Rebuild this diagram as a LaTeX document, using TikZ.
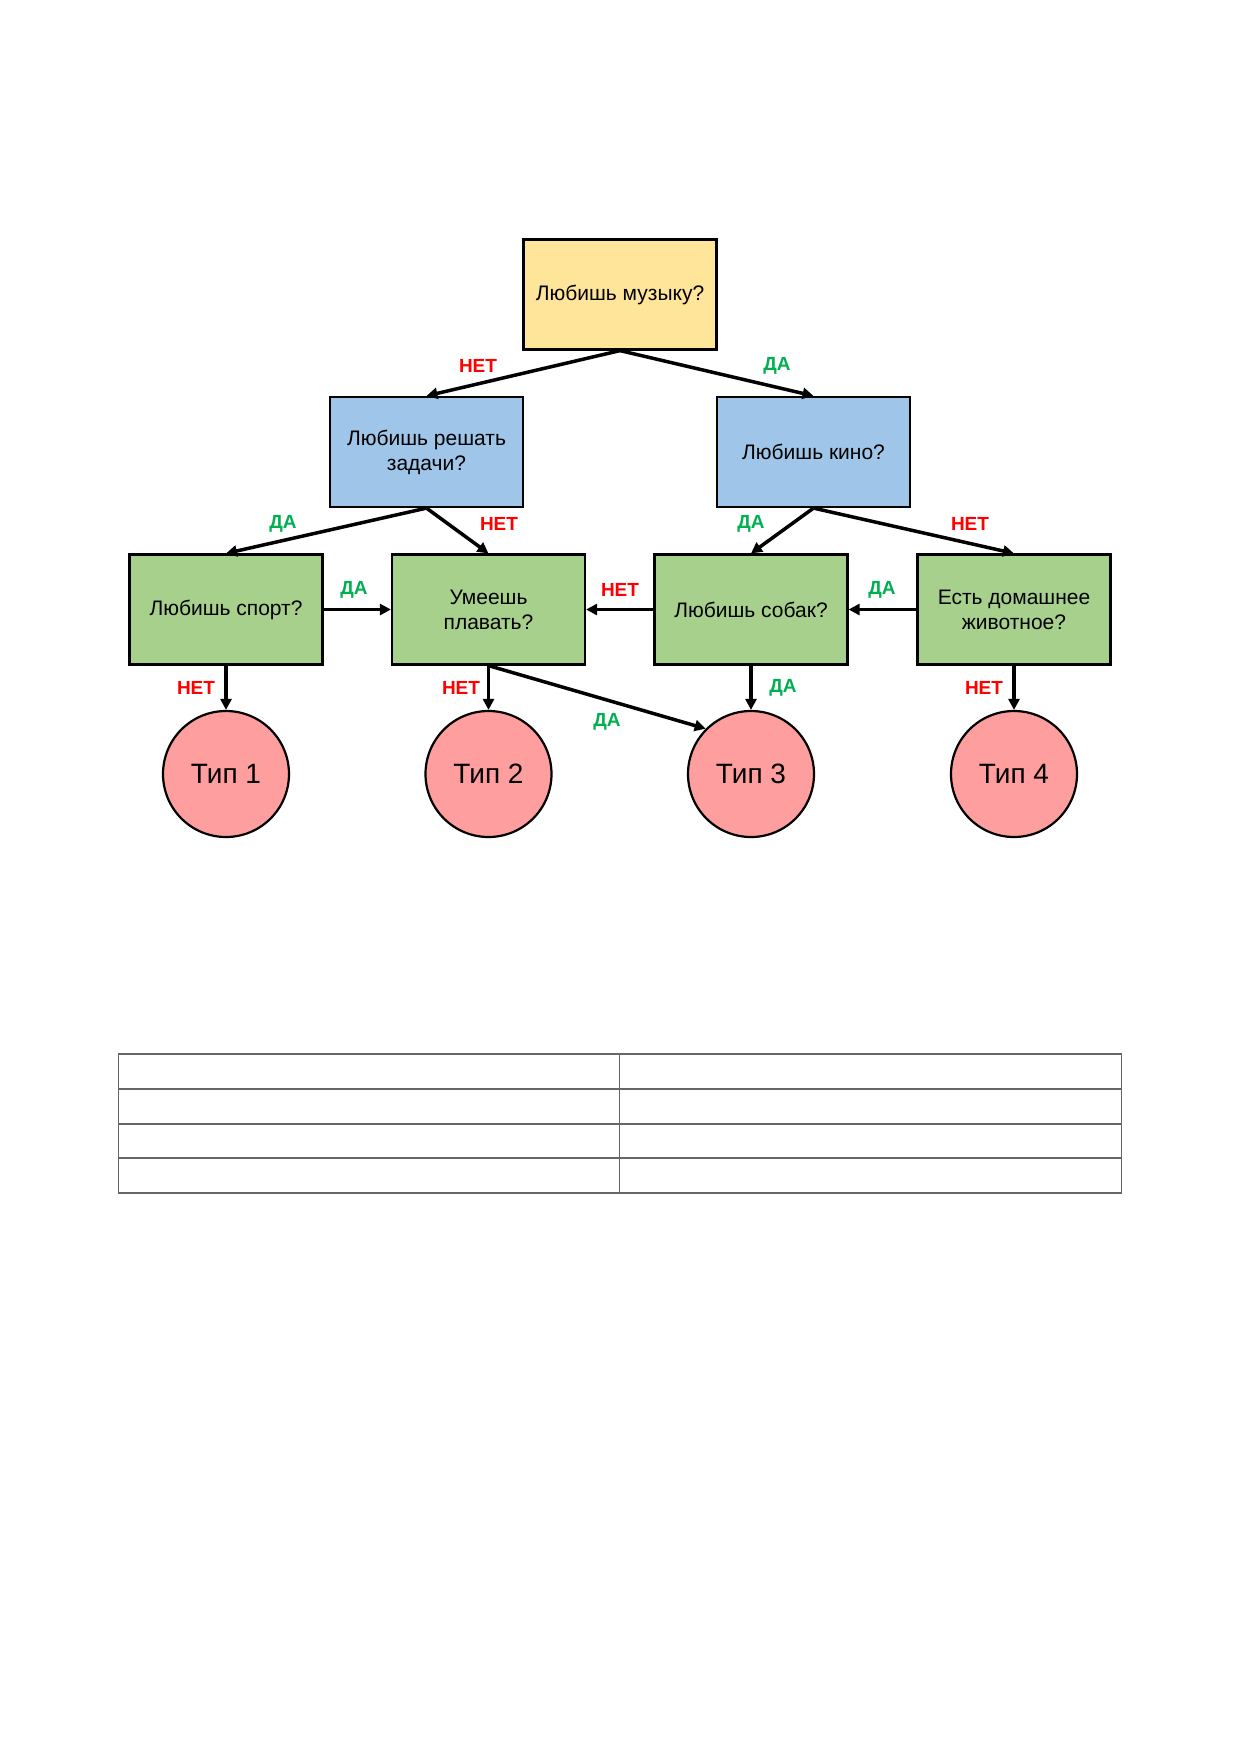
\documentclass[tikz,border=0pt]{standalone}
\usepackage{fontspec}
\setmainfont{Liberation Sans}
\usetikzlibrary{arrows.meta}
\definecolor{cyellow}{HTML}{FFE599}
\definecolor{cblue}{HTML}{9FC5E8}
\definecolor{cgreen}{HTML}{A8D08D}
\definecolor{cpink}{HTML}{FF9E9E}
\definecolor{lred}{HTML}{FF0000}
\definecolor{lgreen}{HTML}{00B050}
\definecolor{tgray}{HTML}{666666}
\begin{document}
\begin{tikzpicture}[x=1pt,y=-1pt,
  qbox/.style={draw=black,line width=2.2pt,minimum width=193pt,minimum height=110pt,align=center,font=\fontsize{21}{25}\selectfont,inner sep=2pt},
  tipnode/.style={draw=black,line width=2.2pt,circle,fill=cpink,minimum size=126pt,inner sep=0pt,font=\fontsize{28}{32}\selectfont},
  conn/.style={line width=3.5pt,-{Triangle[length=11pt,width=11pt]}},
  yes/.style={text=lgreen,font=\fontsize{19}{21}\selectfont\bfseries},
  no/.style={text=lred,font=\fontsize{19}{21}\selectfont\bfseries},
  grid/.style={draw=tgray,line width=1.5pt}]
\useasboundingbox[fill=white] (0,0) rectangle (1240,1754);

\node[qbox,fill=cyellow] (q0) at (620,294.5) {Любишь музыку?};
\node[qbox,fill=cblue] (q1) at (426.5,452) {Любишь решать\\задачи?};
\node[qbox,fill=cblue] (q2) at (813.5,452) {Любишь кино?};
\node[qbox,fill=cgreen] (g1) at (226,609.5) {Любишь спорт?};
\node[qbox,fill=cgreen] (g2) at (488.5,609.5) {Умеешь\\плавать?};
\node[qbox,fill=cgreen] (g3) at (751,609.5) {Любишь собак?};
\node[qbox,fill=cgreen] (g4) at (1014,609.5) {Есть домашнее\\животное?};
\node[tipnode] (t1) at (226,774) {Тип 1};
\node[tipnode] (t2) at (488.5,774) {Тип 2};
\node[tipnode] (t3) at (751,774) {Тип 3};
\node[tipnode] (t4) at (1014,774) {Тип 4};

\draw[conn] (q0.south) -- (q1.north);
\draw[conn] (q0.south) -- (q2.north);
\draw[conn] (q1.south) -- (g1.north);
\draw[conn] (q1.south) -- (g2.north);
\draw[conn] (q2.south) -- (g3.north);
\draw[conn] (q2.south) -- (g4.north);
\draw[conn] (g1.east) -- (g2.west);
\draw[conn] (g3.west) -- (g2.east);
\draw[conn] (g4.west) -- (g3.east);
\draw[conn] (g1.south) -- (t1.north);
\draw[conn] (g2.south) -- (t2.north);
\draw[conn] (g2.south) -- (t3.135);
\draw[conn] (g3.south) -- (t3.north);
\draw[conn] (g4.south) -- (t4.north);

\node[no] (l1) at (478,366) {НЕТ};
\node[yes] (l2) at (777,366) {ДА};
\node[yes] (l3) at (283,524) {ДА};
\node[no] (l4) at (499,524) {НЕТ};
\node[yes] (l5) at (751,524) {ДА};
\node[no] (l6) at (970,524) {НЕТ};
\node[yes] (l7) at (354,590) {ДА};
\node[no] (l8) at (620,590) {НЕТ};
\node[yes] (l9) at (882,590) {ДА};
\node[no] (l10) at (196,688) {НЕТ};
\node[no] (l11) at (461,688) {НЕТ};
\node[yes] (l12) at (607,722) {ДА};
\node[yes] (l13) at (783,688) {ДА};
\node[no] (l14) at (984,688) {НЕТ};

% table
\draw[grid] (118.5,1054) rectangle (1121.5,1193);
\foreach \yy in {1089,1124,1158} \draw[grid] (118.5,\yy) -- (1121.5,\yy);
\draw[grid] (619.5,1054) -- (619.5,1193);
\end{tikzpicture}
\end{document}
